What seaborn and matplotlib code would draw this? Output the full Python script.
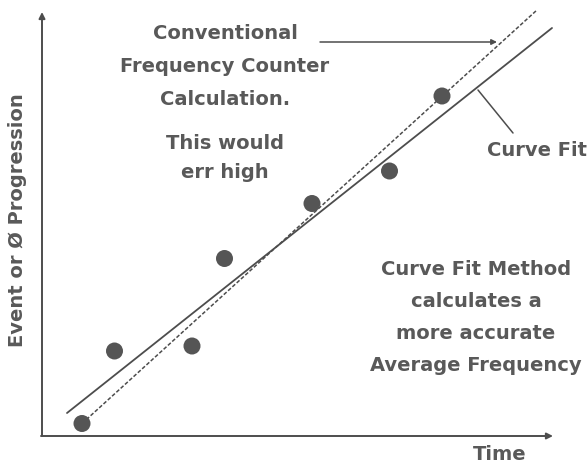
import numpy as np
import pandas as pd
import matplotlib
matplotlib.use('Agg')
import matplotlib.pyplot as plt
import seaborn as sns

event_time = [0.8, 1.45, 3.0, 3.65, 5.4, 6.95, 8.0]
event_prog = [0.25, 1.7, 1.8, 3.55, 4.65, 5.3, 6.8]

# curve fit line and conventional (first/last event) line, end points
fit_time = [0.5, 10.2]
fit_prog = [0.46, 8.16]
conv_time = [0.8, 9.9]
conv_prog = [0.25, 8.52]

conv_text = "Conventional\nFrequency Counter\nCalculation."
err_text = "This would\nerr high"
fit_label = "Curve Fit"
method_text = "Curve Fit Method\ncalculates a\nmore accurate\nAverage Frequency"
x_label = "Time"
y_label = "Event or Ø Progression"

sns.set_style('white')
plt.rcParams['font.family'] = ['DejaVu Sans']

ink = '#4d4d4d'
txt = '#595959'

fig = plt.figure(figsize=(5.88, 4.63), dpi=100)
ax = fig.add_axes([0, 0, 1, 1])
ax.set_xlim(-0.84, 10.92)
ax.set_ylim(-0.54, 8.72)
ax.axis('off')

pts = pd.DataFrame({'time': event_time, 'prog': event_prog})
fit = pd.DataFrame({'time': fit_time, 'prog': fit_prog})
conv = pd.DataFrame({'time': conv_time, 'prog': conv_prog})

sns.lineplot(data=fit, x='time', y='prog', ax=ax, color=ink, lw=1.3)
sns.lineplot(data=conv, x='time', y='prog', ax=ax, color=ink, lw=1.1,
             linestyle=(0, (2.5, 1.3)))
sns.scatterplot(data=pts, x='time', y='prog', ax=ax, color='#555555',
                s=150, edgecolor='none', zorder=5)

# axes drawn as arrows
arrow = dict(arrowstyle='-|>', color=ink, lw=1.4, mutation_scale=9,
             shrinkA=0, shrinkB=0)
ax.annotate('', xy=(0, 8.48), xytext=(0, 0), arrowprops=arrow)
ax.annotate('', xy=(10.22, 0), xytext=(-0.02, 0), arrowprops=arrow)

# pointer arrows
ax.annotate('', xy=(9.1, 7.88), xytext=(5.56, 7.88),
            arrowprops=dict(arrowstyle='-|>', color=ink, lw=1.1,
                            mutation_scale=8, shrinkA=0, shrinkB=0))
ax.annotate('', xy=(8.72, 6.92), xytext=(9.42, 6.06),
            arrowprops=dict(arrowstyle='-', color=ink, lw=1.1,
                            shrinkA=0, shrinkB=0))

fs = 14
kw = dict(ha='center', va='center', fontsize=fs, fontweight='bold', color=txt)
ax.text(3.66, 7.39, conv_text, linespacing=1.95, **kw)
ax.text(3.66, 5.56, err_text, linespacing=1.7, **kw)
ax.text(9.9, 5.72, fit_label, **kw)
ax.text(8.68, 2.37, method_text, linespacing=1.85, **kw)
ax.text(9.16, -0.38, x_label, **kw)
ax.text(-0.48, 4.32, y_label, rotation=90, **kw)

fig.savefig('out.png', dpi=100, facecolor='white')
